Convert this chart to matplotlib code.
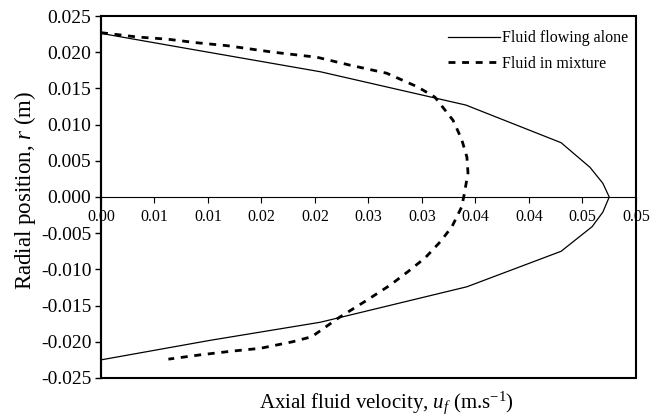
import matplotlib
matplotlib.use("Agg")
import matplotlib.pyplot as plt
from matplotlib.patches import Rectangle

# Fluid flowing alone (solid)
r_alone = [0.0226, 0.0206, 0.0173, 0.0127, 0.0075, 0.0041, 0.0019, 0.0000,
           -0.0021, -0.0041, -0.0075, -0.0124, -0.0173, -0.0198, -0.0225]
u_alone = [0.0000, 0.0077, 0.0205, 0.0341, 0.0430, 0.0457, 0.0469, 0.0475,
           0.0469, 0.0459, 0.0430, 0.0342, 0.0205, 0.0102, 0.0000]

# Fluid in mixture (dashed)
r_mix = [0.0227, 0.0221, 0.0218, 0.0213, 0.0209, 0.0200, 0.0193, 0.0182,
         0.0171, 0.0152, 0.0138, 0.0106, 0.0080, 0.0055, 0.0033, 0.0000,
         -0.0014, -0.0041, -0.0062, -0.0084, -0.0103, -0.0122, -0.0144,
         -0.0167, -0.0193, -0.0200, -0.0209, -0.0213, -0.0218, -0.0224]
u_mix = [0.0000, 0.0034, 0.0062, 0.0090, 0.0118, 0.0161, 0.0202, 0.0233,
         0.0267, 0.0296, 0.0312, 0.0329, 0.0337, 0.0342, 0.0343, 0.0339,
         0.0337, 0.0328, 0.0317, 0.0303, 0.0287, 0.0270, 0.0247,
         0.0222, 0.0197, 0.0179, 0.0149, 0.0122, 0.0093, 0.0063]

x_ticks = [0.000, 0.005, 0.010, 0.015, 0.020, 0.025, 0.030, 0.035, 0.040, 0.045, 0.050]
x_labels = ["0.00", "0.01", "0.01", "0.02", "0.02", "0.03", "0.03", "0.04", "0.04", "0.05", "0.05"]
y_ticks = [0.025, 0.020, 0.015, 0.010, 0.005, 0.000, -0.005, -0.010, -0.015, -0.020, -0.025]
y_labels = ["0.025", "0.020", "0.015", "0.010", "0.005", "0.000",
            "-0.005", "-0.010", "-0.015", "-0.020", "-0.025"]

plt.rcParams['font.family'] = ['Liberation Serif', 'DejaVu Serif']
plt.rcParams['mathtext.fontset'] = 'custom'
plt.rcParams['mathtext.rm'] = 'Liberation Serif'
plt.rcParams['mathtext.it'] = 'Liberation Serif:italic'

fig = plt.figure(figsize=(6.67, 4.19), dpi=100)
ax = fig.add_axes([0.1514, 0.0979, 0.8021, 0.8639])

ax.plot(u_alone, r_alone, color='black', lw=0.9, label='Fluid flowing alone')
ax.plot(u_mix, r_mix, color='black', lw=2.0, linestyle=(0, (2.5, 2.4)),
        label='Fluid in mixture')

ax.set_xlim(0, 0.05)
ax.set_ylim(-0.025, 0.025)

# x axis crosses at r = 0, outer frame drawn separately
for s in ['top', 'right']:
    ax.spines[s].set_visible(False)
ax.spines['bottom'].set_position(('data', 0))
ax.spines['bottom'].set_linewidth(0.8)
ax.spines['left'].set_linewidth(1.5)
ax.add_patch(Rectangle((0, 0), 1, 1, transform=ax.transAxes, fill=False,
                       lw=1.5, edgecolor='black', clip_on=False, zorder=5))

ax.set_xticks(x_ticks)
ax.set_xticklabels(x_labels, fontsize=11.5)
ax.set_yticks(y_ticks)
ax.set_yticklabels(y_labels, fontsize=14)
ax.tick_params(axis='x', direction='out', length=4, width=0.8, pad=5)
ax.tick_params(axis='y', direction='out', length=4, width=1.0, pad=3)

fig.text(386 / 667, 1 - 408 / 419, r'Axial fluid velocity, $u_f$ (m.s$^{-1}$)',
         fontsize=15, ha='center', va='baseline')
fig.text(25 / 667, 1 - 190 / 419, r'Radial position, $\it{r}$ (m)',
         fontsize=16.5, ha='center', va='center', rotation=90)

ax.legend(loc='upper right', bbox_to_anchor=(1.0, 0.983), frameon=False,
          fontsize=11.5, handlelength=3.3, handletextpad=0.1,
          labelspacing=0.6, borderaxespad=0.2, borderpad=0.3)

fig.savefig('out.png', dpi=100)
